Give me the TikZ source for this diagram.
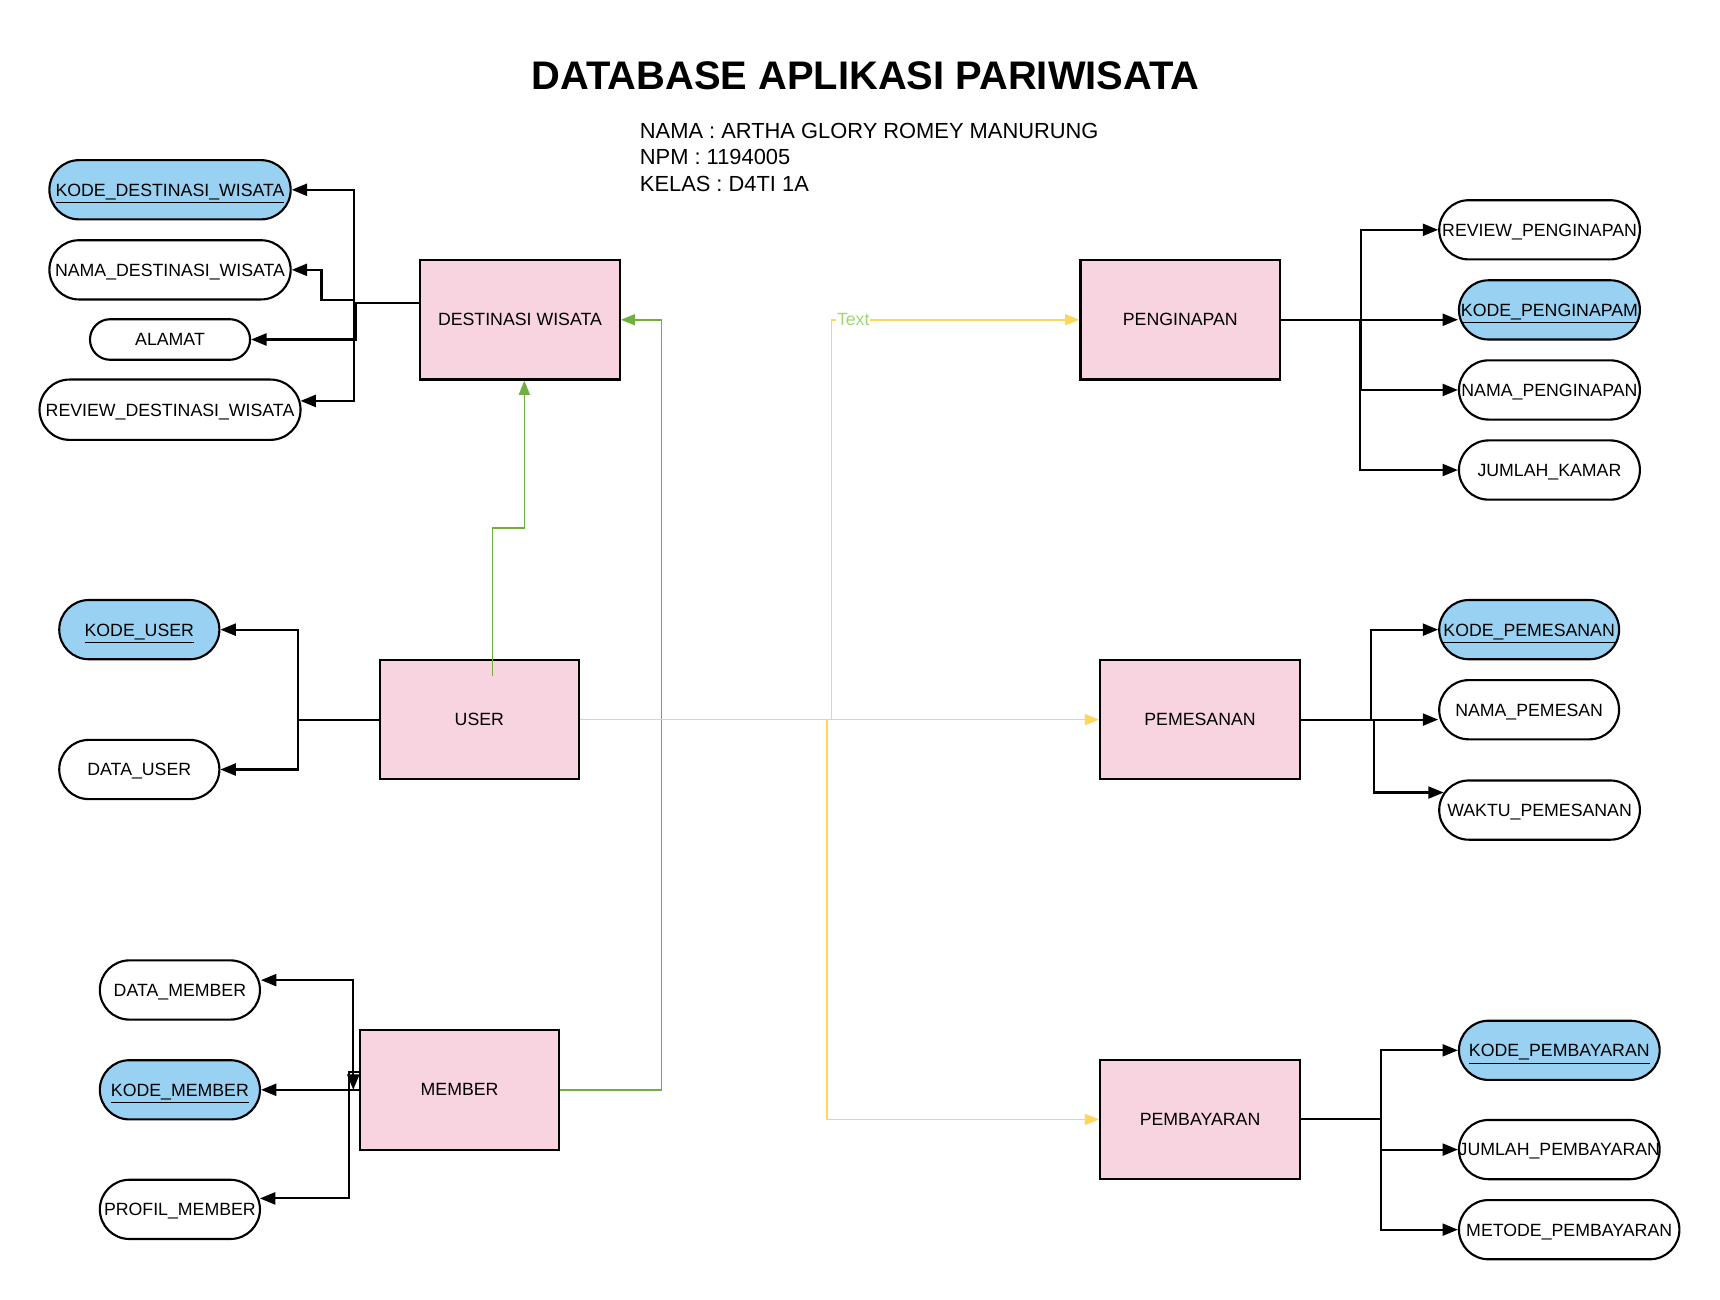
\documentclass[tikz,border=0pt]{standalone}
\usepackage{fontspec}
\setmainfont{Liberation Sans}
\usetikzlibrary{arrows.meta, positioning, calc}
\definecolor{entpink}{RGB}{248,212,224}
\definecolor{keyblue}{RGB}{153,209,242}
\definecolor{relgreen}{RGB}{113,175,62}
\definecolor{relyellow}{RGB}{255,214,92}
\definecolor{lblgreen}{RGB}{160,214,120}

\begin{document}
\begin{tikzpicture}[x=0.02cm, y=-0.02cm,
    ent/.style={draw, line width=1.1pt, fill=entpink, minimum width=3.64cm, minimum height=2.18cm, font=\fontsize{9.2}{11}\selectfont},
    attr/.style={draw, line width=1.1pt, fill=white, rounded corners=0.54cm, minimum width=2.92cm, minimum height=1.08cm, inner sep=0pt, text height=6.6pt, text depth=0pt, font=\fontsize{9.2}{11}\selectfont, execute at begin node={\hbox to 0pt\bgroup\hss}, execute at end node={\hss\egroup}},
    key/.style={attr, fill=keyblue},
    arr/.style={-{Triangle[length=0.28cm, width=0.22cm]}, line width=1.1pt},
    grn/.style={-{Triangle[length=0.26cm, width=0.2cm]}, draw=relgreen, line width=0.85pt},
    ylw/.style={-{Triangle[length=0.26cm, width=0.2cm]}, draw=relyellow, line width=0.85pt}
  ]
    \useasboundingbox (0,0) rectangle (1568,1185);

    \node[font=\fontsize{20.7}{24}\selectfont\bfseries, anchor=base] (title) at (789,82) {DATABASE APLIKASI PARIWISATA};
    \node[font=\fontsize{11.35}{13.7}\selectfont, align=left, anchor=north west, inner sep=0pt] (info) at (583,112) {NAMA : ARTHA GLORY ROMEY MANURUNG\\NPM : 1194005\\KELAS : D4TI 1A};

    % entitas
    \node[ent] (dw) at (474,291.5) {DESTINASI WISATA};
    \node[ent] (peng) at (1076,291.5) {PENGINAPAN};
    \node[ent] (user) at (437,656) {USER};
    \node[ent] (pesan) at (1094,656) {PEMESANAN};
    \node[ent] (member) at (419,993.5) {MEMBER};
    \node[ent] (bayar) at (1094,1020.5) {PEMBAYARAN};

    % atribut destinasi wisata
    \node[key, minimum width=4.4cm] (kdw) at (155,173) {\underline{KODE\_DESTINASI\_WISATA}};
    \node[attr, minimum width=4.4cm] (ndw) at (155,246) {NAMA\_DESTINASI\_WISATA};
    \node[attr, minimum height=0.74cm, rounded corners=0.37cm] (alamat) at (155,309.5) {ALAMAT};
    \node[attr, minimum width=4.76cm, minimum height=1.1cm, rounded corners=0.55cm] (rdw) at (155,373.5) {REVIEW\_DESTINASI\_WISATA};

    % atribut penginapan
    \node[attr, minimum width=3.66cm] (rpeng) at (1403.5,209.5) {REVIEW\_PENGINAPAN};
    \node[key, minimum width=3.3cm] (kpeng) at (1412.5,282.5) {\underline{KODE\_PENGINAPAM}};
    \node[attr, minimum width=3.3cm] (npeng) at (1412.5,355.5) {NAMA\_PENGINAPAN};
    \node[attr, minimum width=3.3cm] (jkamar) at (1412.5,428.5) {JUMLAH\_KAMAR};

    % atribut user
    \node[key] (kuser) at (127,574) {\underline{KODE\_USER}};
    \node[attr] (duser) at (127,701.5) {DATA\_USER};

    % atribut pemesanan
    \node[key, minimum width=3.28cm] (kpesan) at (1394,574) {\underline{KODE\_PEMESANAN}};
    \node[attr, minimum width=3.28cm] (npesan) at (1394,647) {NAMA\_PEMESAN};
    \node[attr, minimum width=3.66cm] (wpesan) at (1403.5,738.5) {WAKTU\_PEMESANAN};

    % atribut member
    \node[attr] (dmember) at (164,902.5) {DATA\_MEMBER};
    \node[key] (kmember) at (164,993.5) {\underline{KODE\_MEMBER}};
    \node[attr] (pmember) at (164,1102.5) {PROFIL\_MEMBER};

    % atribut pembayaran
    \node[key, minimum width=3.66cm] (kbayar) at (1421.5,957.5) {\underline{KODE\_PEMBAYARAN}};
    \node[attr, minimum width=3.66cm] (jbayar) at (1421.5,1048) {JUMLAH\_PEMBAYARAN};
    \node[attr, minimum width=4.02cm] (mbayar) at (1430.5,1121) {METODE\_PEMBAYARAN};

    % garis atribut
    \coordinate (dwout) at ($(dw.west)+(0,-15)$);
    \draw[arr] (dwout) -- ++(-59,0) |- (kdw.east);
    \draw[arr] (dwout) -- ++(-59,0) |- ++(-30,-3) |- (ndw.east);
    \draw[arr] (dwout) -- ++(-58,0) |- (alamat.east);
    \draw[arr] (dwout) -- ++(-59,0) |- ($(rdw.east)+(-1,-8)$);

    \draw[arr] (peng.east) -- ++(73,0) |- (rpeng.west);
    \draw[arr] (peng.east) -- (peng.east -| kpeng.west);
    \draw[arr] (peng.east) -- ++(73,0) |- (npeng.west);
    \draw[arr] (peng.east) -- ++(72,0) |- (jkamar.west);

    \draw[arr] (user.west) -- ++(-73,0) |- (kuser.east);
    \draw[arr] (user.west) -- ++(-73,0) |- (duser.east);

    \draw[arr] (pesan.east) -- ++(64,0) |- (kpesan.west);
    \draw[arr] (pesan.east) -- (pesan.east -| npesan.west);
    \draw[arr] (pesan.east) -- ++(67,0) |- ($(wpesan.west)+(5,-16)$);

    \coordinate (mj) at ($(member.west)+(-5,0)$);
    \draw[arr, {Triangle[length=0.28cm, width=0.22cm]}-{Triangle[length=0.28cm, width=0.22cm]}] (mj) |- ($(dmember.east)+(0,-9)$);
    \draw[arr] (member.west) -- (kmember.east);
    \draw[arr] ($(member.west)+(0,-16)$) -- ++(-9,0) |- ($(pmember.east)+(-1,-10)$);

    \draw[arr] (bayar.east) -- ++(73,0) |- (kbayar.west);
    \draw[arr] (bayar.east) -- ++(73,0) |- (jbayar.west);
    \draw[arr] (bayar.east) -- ++(73,0) |- (mbayar.west);

    % relasi
    \draw[grn] ($(user.north)+(12,16)$) -- ++(0,-135) -| ($(dw.south)+(4,0)$);
    \draw[grn] (member.east) -- ++(92,0) |- (dw.east);

    \draw[ylw] (user.east) -- (pesan.west);
    \draw[ylw] (user.east) -- ++(229,0) |- node[pos=0.544, fill=white, inner sep=0.5pt, text=lblgreen, font=\fontsize{9.2}{11}\selectfont] (lbl) {Text} (peng.west);
    \draw[ylw] (user.east) -- ++(225,0) |- (bayar.west);
\end{tikzpicture}
\end{document}
